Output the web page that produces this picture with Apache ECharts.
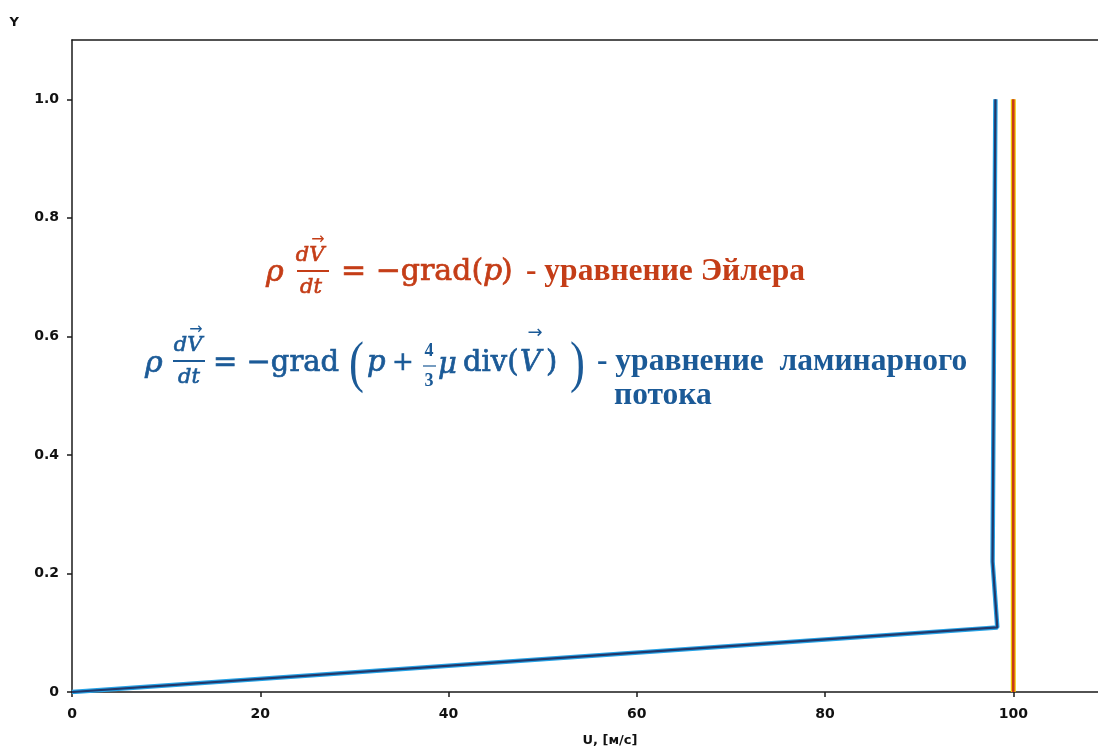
<!DOCTYPE html>
<html>
<head>
<meta charset="utf-8">
<script src="https://cdn.jsdelivr.net/npm/echarts@6/dist/echarts.min.js"></script>
<style>
html,body{margin:0;padding:0;background:#fff;}
#c{width:1098px;height:747px;}
</style>
</head>
<body>
<div id="c"></div>
<script>
// ---- data ----
const laminarU = [0, 98.3, 97.8, 98.1];
const laminarY = [0, 0.109, 0.22, 1.0];
const eulerU = [100, 100];
const eulerY = [0, 1.0];
const xTicks = [0, 20, 40, 60, 80, 100];
const yTicks = [0, 0.2, 0.4, 0.6, 0.8, 1.0];
const yTickLabels = ['0', '0.2', '0.4', '0.6', '0.8', '1.0'];
const xName = 'U, [м/с]';
const yName = 'Y';

const RED = '#c43d17';
const BLUE = '#1b5a97';
const TEXTF = '"Liberation Serif", serif';
const MATHF = '"DejaVu Serif", serif';
const SANS = '"DejaVu Sans", sans-serif';

function pairs(xs, ys) { return xs.map((v, i) => [v, ys[i]]); }

function txt(x, y, s, o) {
  o = o || {};
  const el = {
    type: 'text', x: x, y: y, z: 10,
    style: {
      text: s,
      fill: o.color,
      fontFamily: o.family || MATHF,
      fontSize: o.size || 30,
      fontWeight: o.weight || 'normal',
      fontStyle: o.italic ? 'italic' : 'normal',
      textAlign: o.align || 'left',
      textVerticalAlign: 'middle'
    }
  };
  if (o.thick) { el.style.stroke = o.color; el.style.lineWidth = o.thick; }
  if (o.sx) { el.scaleX = o.sx; }
  return el;
}
function bar(x1, x2, y, color, w) {
  return { type: 'line', z: 10, shape: { x1: x1, y1: y, x2: x2, y2: y }, style: { stroke: color, lineWidth: w || 2 } };
}

const graphics = [
  // Euler equation (red)
  txt(266, 273, 'ρ', { color: RED, italic: true, size: 30, thick: 0.7 }),
  txt(310, 256, 'dV', { color: RED, italic: true, size: 21, align: 'center', thick: 0.6 }),
  txt(318, 240, '→', { color: RED, size: 16, align: 'center', family: SANS }),
  bar(297, 329, 271, RED, 2),
  txt(311, 288, 'dt', { color: RED, italic: true, size: 21, align: 'center', thick: 0.6 }),
  txt(341, 272, '= −grad(', { color: RED, size: 30, thick: 0.7 }),
  txt(483, 272, 'p', { color: RED, italic: true, size: 30, thick: 0.7 }),
  txt(501, 272, ')', { color: RED, size: 30, thick: 0.7 }),
  txt(526, 272, '- уравнение Эйлера', { color: RED, size: 31.5, weight: 'bold', family: TEXTF }),

  // laminar flow equation (blue)
  txt(145, 364, 'ρ', { color: BLUE, italic: true, size: 30, thick: 0.7 }),
  txt(188, 346, 'dV', { color: BLUE, italic: true, size: 21, align: 'center', thick: 0.6 }),
  txt(196, 330, '→', { color: BLUE, size: 16, align: 'center', family: SANS }),
  bar(173, 205, 361, BLUE, 2),
  txt(189, 378, 'dt', { color: BLUE, italic: true, size: 21, align: 'center', thick: 0.6 }),
  txt(213, 363, '= −grad', { color: BLUE, size: 29, thick: 0.7 }),
  txt(349, 366, '(', { color: BLUE, size: 56, family: TEXTF, sx: 0.8 }),
  txt(367, 363, 'p', { color: BLUE, italic: true, size: 29, thick: 0.7 }),
  txt(392, 363, '+', { color: BLUE, size: 26, thick: 0.5 }),
  txt(429, 351, '4', { color: BLUE, size: 18, align: 'center', weight: 'bold', family: TEXTF }),
  bar(423, 436, 366, BLUE, 1.2),
  txt(429, 381, '3', { color: BLUE, size: 18, align: 'center', weight: 'bold', family: TEXTF }),
  txt(438, 365, 'μ', { color: BLUE, italic: true, size: 29, thick: 0.7 }),
  txt(463, 363, 'div(', { color: BLUE, size: 29, thick: 0.7 }),
  txt(520, 363, 'V', { color: BLUE, italic: true, size: 29, thick: 0.7 }),
  txt(535, 333, '→', { color: BLUE, size: 18, align: 'center', family: SANS }),
  txt(546, 363, ')', { color: BLUE, size: 29, thick: 0.7 }),
  txt(570, 366, ')', { color: BLUE, size: 56, family: TEXTF, sx: 0.8 }),
  txt(597, 362, '- уравнение  ламинарного', { color: BLUE, size: 31.5, weight: 'bold', family: TEXTF }),
  txt(614, 396, 'потока', { color: BLUE, size: 31.5, weight: 'bold', family: TEXTF })
];

const axisLineStyle = { color: '#1a1a1a', width: 1.5 };
const chart = echarts.init(document.getElementById('c'), null, { renderer: 'canvas' });
chart.setOption({
  animation: false,
  backgroundColor: '#ffffff',
  grid: { left: 72, right: 0, top: 40, bottom: 55, show: false, containLabel: false, outerBoundsMode: 'none' },
  xAxis: [{
    type: 'value', min: 0, max: 109,
    name: xName, nameLocation: 'middle', nameGap: 42,
    nameTextStyle: { color: '#111', fontSize: 13, fontWeight: 'bold', fontFamily: SANS, padding: [0, 0, 0, 50] },
    splitLine: { show: false },
    axisLine: { show: true, onZero: false, lineStyle: axisLineStyle },
    axisTick: { show: true, length: 5, customValues: xTicks, lineStyle: axisLineStyle },
    axisLabel: { customValues: xTicks, color: '#111', fontSize: 14, fontWeight: 'bold', fontFamily: SANS, margin: 15 }
  }, {
    type: 'value', min: 0, max: 109, position: 'top',
    splitLine: { show: false },
    axisLine: { show: true, onZero: false, lineStyle: axisLineStyle },
    axisTick: { show: false }, axisLabel: { show: false }
  }],
  yAxis: {
    type: 'value', min: 0, max: 1.1,
    name: yName, nameLocation: 'end', nameGap: 11,
    nameTextStyle: { color: '#111', fontSize: 13, fontWeight: 'bold', fontFamily: SANS, align: 'right', padding: [0, 53, 0, 0] },
    splitLine: { show: false },
    axisLine: { show: true, onZero: false, lineStyle: axisLineStyle },
    axisTick: { show: true, length: 5, customValues: yTicks, lineStyle: axisLineStyle },
    axisLabel: {
      customValues: yTicks, color: '#111', fontSize: 14, fontWeight: 'bold', fontFamily: SANS, margin: 13,
      formatter: function (v) { const i = yTicks.findIndex(t => Math.abs(t - v) < 1e-9); return i >= 0 ? yTickLabels[i] : ''; }
    }
  },
  series: [
    { type: 'line', data: pairs(eulerU, eulerY), symbol: 'none', lineStyle: { color: '#f0c400', width: 5 }, z: 2 },
    { type: 'line', data: pairs(eulerU, eulerY), symbol: 'none', lineStyle: { color: '#c8361a', width: 2.5 }, z: 3 },
    { type: 'line', data: pairs(laminarU, laminarY), symbol: 'none', lineStyle: { color: '#27a3e6', width: 4.5 }, z: 4 },
    { type: 'line', data: pairs(laminarU, laminarY), symbol: 'none', lineStyle: { color: '#22386b', width: 2.2 }, z: 5 }
  ],
  graphic: graphics
});
</script>
</body>
</html>
